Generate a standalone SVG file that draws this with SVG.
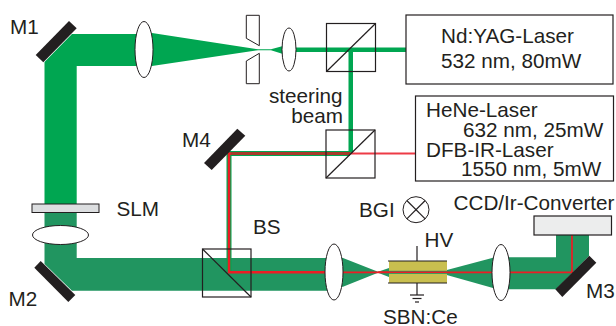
<svg xmlns="http://www.w3.org/2000/svg" width="616" height="326" viewBox="0 0 616 326">
<style>
text{font-family:"Liberation Sans",Arial,sans-serif;font-size:20.7px;fill:#231f20}
.o{fill:#fff;stroke:#231f20;stroke-width:1}
.c{fill:none;stroke:#231f20;stroke-width:1.2}
.m{fill:#231f20}
.g1{fill:#00a651}
.g2{fill:#219560}
.r{fill:none;stroke:#ed1c24;stroke-width:2.500}
.t{fill:none;stroke:#ed1c24;stroke-width:1.700}
</style>
<rect width="616" height="326" fill="#fff"/>
<g id="connectors">
<polygon class="g1" points="44.500,62 72,34 144,34 144,66 76.700,66 76.700,204 44.500,204"/>
<polygon class="g1" points="144,33 152,33 258,49.300 271,49.300 283,46 283,54 271,50.200 258,50.200 152,66 144,66"/>
<rect class="g1" x="285" y="47.500" width="121" height="4.500"/>
<rect class="g1" x="348.500" y="49.500" width="4.500" height="104"/>
<polygon class="g2" points="44.500,204 76.700,204 76.700,258 334,258 334,290.700 72,290.700 44.500,264"/>
<polygon class="g2" points="334,258 343,258 378,271.700 378,272.700 389,277 389,268 378,271.700 378,272.700 343,286.700 334,286.700"/>
<polygon class="g2" points="445,270.500 493,257.700 501,257.700 501,288 493,288 445,274.500"/>
<polygon class="g2" points="501,257.300 556,257.300 556,234 589,234 589,256 556,289.300 501,289.300"/>
<polyline points="350,153.500 229,153.500 229,272" fill="none" stroke="#00a651" stroke-width="5"/>
<polyline class="r" points="229,272 229,153.500 350,153.500" stroke-linejoin="miter"/>
<line x1="231" y1="153.500" x2="350" y2="153.500" stroke="#a63a2a" stroke-width="3"/>
<line x1="350" y1="153.500" x2="415" y2="153.500" stroke="#ed3b46" stroke-width="2.200"/>
<polyline class="r" points="229,272 229,272.300 334,272.300"/>
<polyline class="t" points="334,272.300 572,272.300 572,234"/>
</g>
<g id="M1"><polygon class="m" points="35.700,55 69,21 76.700,28.300 43.300,62.300"/><text x="10" y="33.500">M1</text></g>
<g id="lens1"><ellipse class="o" cx="144" cy="49.500" rx="9" ry="28"/></g>
<g id="aperture"><polygon class="o" points="246.300,15.300 259.300,15.300 259.300,45.700 246.300,38.300"/><polygon class="o" points="246.300,61 259.300,53.300 259.300,83.700 246.300,83.700"/></g>
<g id="lens2"><ellipse class="o" cx="289" cy="49.500" rx="7" ry="21.500"/></g>
<g id="cube1"><rect class="c" x="326.500" y="23.500" width="49" height="48"/><line class="c" x1="326.500" y1="71.500" x2="375.500" y2="23.500"/></g>
<g id="cube2"><rect class="c" x="326" y="130" width="49" height="48"/><line class="c" x1="326" y1="178" x2="375" y2="130"/></g>
<g id="yag"><rect x="406" y="15" width="207" height="69" fill="#fff" stroke="#231f20" stroke-width="1.200"/><text x="441" y="42.500">Nd:YAG-Laser</text><text x="441" y="67.500">532 nm, 80mW</text></g>
<g id="hene"><rect x="415.500" y="96" width="198" height="85" fill="#fff" stroke="#231f20" stroke-width="1.200"/><text x="426" y="116.700">HeNe-Laser</text><text x="463" y="136.700">632 nm, 25mW</text><text x="426" y="157.300">DFB-IR-Laser</text><text x="461" y="175.700">1550 nm, 5mW</text></g>
<g id="steering"><text x="342.500" y="102.500" text-anchor="end">steering</text><text x="343" y="122.700" text-anchor="end">beam</text></g>
<g id="M4"><polygon class="m" points="204,163 237.300,128.700 245.300,135.700 211.700,170"/><text x="182" y="146.700">M4</text></g>
<g id="SLM"><rect x="32" y="204" width="67" height="8.500" fill="#dcdee0" stroke="#231f20" stroke-width="1"/><text x="116.500" y="215.700">SLM</text></g>
<g id="lens5"><ellipse class="o" cx="60.500" cy="235" rx="28" ry="9.500"/></g>
<g id="M2"><polygon class="m" points="34.300,267.700 40.700,261 75.300,295 68.300,302"/><text x="8.500" y="306.300">M2</text></g>
<g id="BS"><rect class="c" x="202.500" y="249" width="48.500" height="48"/><line class="c" x1="202.500" y1="249" x2="251" y2="297"/><text x="253" y="234.300">BS</text></g>
<g id="lens3"><ellipse class="o" cx="334" cy="272" rx="9" ry="28"/></g>
<g id="crystal"><rect x="389" y="261" width="58" height="22" fill="#c9bf4f"/><rect class="g2" x="389" y="270.800" width="58" height="3"/><line x1="378" y1="272.300" x2="447" y2="272.300" stroke="#ed1c24" stroke-width="1.500"/><line class="c" x1="388" y1="261" x2="447" y2="261"/><line class="c" x1="388" y1="283" x2="447" y2="283"/><line class="c" x1="417" y1="246" x2="417" y2="261"/><line class="c" x1="417" y1="283" x2="417" y2="295"/><line class="c" x1="410" y1="295" x2="424" y2="295"/><line class="c" x1="412.500" y1="298.500" x2="421.500" y2="298.500"/><line class="c" x1="415" y1="302" x2="419" y2="302"/><text x="424.500" y="247.300">HV</text><text x="383" y="323.500">SBN:Ce</text></g>
<g id="BGI"><circle class="o" cx="416" cy="209.700" r="13"/><line class="c" x1="406.800" y1="200.500" x2="425.200" y2="218.900"/><line class="c" x1="425.200" y1="200.500" x2="406.800" y2="218.900"/><text x="359" y="217.300">BGI</text></g>
<g id="lens4"><ellipse class="o" cx="501" cy="272.500" rx="9" ry="28"/></g>
<g id="CCD"><rect x="534" y="216" width="77.500" height="19" fill="#eceded" stroke="#231f20" stroke-width="1.200"/><text x="453.500" y="210">CCD/Ir-Converter</text></g>
<g id="M3"><polygon class="m" points="555.300,289.300 589.300,255.700 596.300,262.700 562.300,297"/><text x="586" y="298.300">M3</text></g>
</svg>
